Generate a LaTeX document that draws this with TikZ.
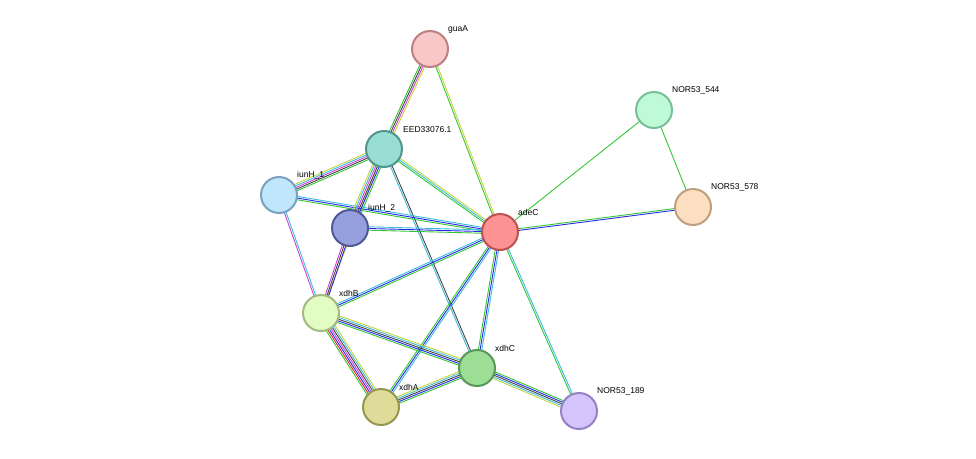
\documentclass[tikz,border=0pt]{standalone}
\usepackage{fontspec}
\setmainfont{Liberation Sans}
\usetikzlibrary{calc}
\definecolor{eg}{HTML}{33C733}
\definecolor{ey}{HTML}{C4D43A}
\definecolor{ec}{HTML}{3CBCDC}
\definecolor{eb}{HTML}{2828EE}
\definecolor{em}{HTML}{D040D8}
\definecolor{ek}{HTML}{444444}
\definecolor{er}{HTML}{E82828}
\newcommand\medge[4]{%
  \foreach \cc [count=\ii] in {#4} {%
    \pgfmathsetmacro\off{(\ii-(#3+1)/2)*1.7}
    \draw[\cc, line width=0.9pt] ($(#1)!\off pt!90:(#2)$) -- ($(#2)!\off pt!-90:(#1)$);
  }}
\tikzset{
  prot/.style={circle, minimum size=36pt, line width=2pt, inner sep=0pt},
  lab/.style={font=\fontsize{8.5}{10}\selectfont, anchor=south west, inner sep=1pt}
}
\begin{document}
\begin{tikzpicture}[x=1pt,y=-1pt]
\useasboundingbox (0,0) rectangle (976,458);
\coordinate (guaA) at (430,49);
\coordinate (EED) at (384,149);
\coordinate (iunH1) at (279,195);
\coordinate (iunH2) at (350,228);
\coordinate (adeC) at (500,232);
\coordinate (N544) at (654,110);
\coordinate (N578) at (693,207);
\coordinate (xdhB) at (321,313);
\coordinate (xdhC) at (477,368);
\coordinate (xdhA) at (381,407);
\coordinate (N189) at (579,411);
\medge{guaA}{EED}{4}{eg,ek,em,ey}
\medge{guaA}{adeC}{2}{eg,ey}
\medge{EED}{iunH1}{5}{ey,ec,em,ek,eg}
\medge{EED}{adeC}{3}{eg,ec,ey}
\medge{EED}{xdhC}{2}{ec,ek}
\medge{EED}{xdhB}{1}{ey}
\medge{iunH1}{adeC}{3}{eg,eb,ec}
\medge{iunH1}{xdhB}{2}{em,ec}
\medge{iunH2}{adeC}{3}{eg,eb,ec}
\medge{iunH2}{xdhB}{3}{em,ek,eb}
\medge{EED}{iunH2}{6}{ey,ec,em,ek,eb,eg}
\medge{xdhB}{adeC}{3}{eg,eb,ec}
\medge{adeC}{N578}{2}{eb,eg}
\medge{adeC}{N544}{1}{eg}
\medge{N544}{N578}{1}{eg}
\medge{adeC}{xdhC}{3}{eg,eb,ec}
\medge{adeC}{xdhA}{3}{eg,eb,ec}
\medge{adeC}{N189}{2}{eg,ec}
\medge{xdhB}{xdhC}{5}{eg,eb,ek,ec,ey}
\medge{xdhB}{xdhA}{7}{eg,er,eb,em,ek,ec,ey}
\medge{xdhA}{xdhC}{5}{eg,eb,ek,ec,ey}
\medge{xdhC}{N189}{5}{ey,ec,ek,eb,eg}
\node[prot, draw={rgb,255:red,190;green,128;blue,128}, fill={rgb,255:red,248;green,200;blue,200}] (guaA-n) at (guaA) {};
\node[prot, draw={rgb,255:red,80;green,150;blue,140}, fill={rgb,255:red,152;green,222;blue,212}] (EED-n) at (EED) {};
\node[prot, draw={rgb,255:red,120;green,162;blue,190}, fill={rgb,255:red,192;green,230;blue,252}] (iunH1-n) at (iunH1) {};
\node[prot, draw={rgb,255:red,80;green,90;blue,150}, fill={rgb,255:red,150;green,160;blue,222}] (iunH2-n) at (iunH2) {};
\node[prot, draw={rgb,255:red,190;green,80;blue,80}, fill={rgb,255:red,252;green,146;blue,146}] (adeC-n) at (adeC) {};
\node[prot, draw={rgb,255:red,120;green,190;blue,150}, fill={rgb,255:red,190;green,250;blue,216}] (N544-n) at (N544) {};
\node[prot, draw={rgb,255:red,190;green,160;blue,128}, fill={rgb,255:red,252;green,222;blue,192}] (N578-n) at (N578) {};
\node[prot, draw={rgb,255:red,160;green,186;blue,128}, fill={rgb,255:red,226;green,252;blue,196}] (xdhB-n) at (xdhB) {};
\node[prot, draw={rgb,255:red,90;green,150;blue,90}, fill={rgb,255:red,156;green,222;blue,150}] (xdhC-n) at (xdhC) {};
\node[prot, draw={rgb,255:red,150;green,150;blue,80}, fill={rgb,255:red,222;green,220;blue,152}] (xdhA-n) at (xdhA) {};
\node[prot, draw={rgb,255:red,150;green,128;blue,196}, fill={rgb,255:red,212;green,196;blue,252}] (N189-n) at (N189) {};
\node[lab] at (447,34) {guaA};
\node[lab] at (402,134) {EED33076.1};
\node[lab] at (296,180) {iunH\_1};
\node[lab] at (367,213) {iunH\_2};
\node[lab] at (517,217) {adeC};
\node[lab] at (671,95) {NOR53\_544};
\node[lab] at (710,192) {NOR53\_578};
\node[lab] at (338,298) {xdhB};
\node[lab] at (494,353) {xdhC};
\node[lab] at (398,392) {xdhA};
\node[lab] at (596,396) {NOR53\_189};
\end{tikzpicture}
\end{document}
